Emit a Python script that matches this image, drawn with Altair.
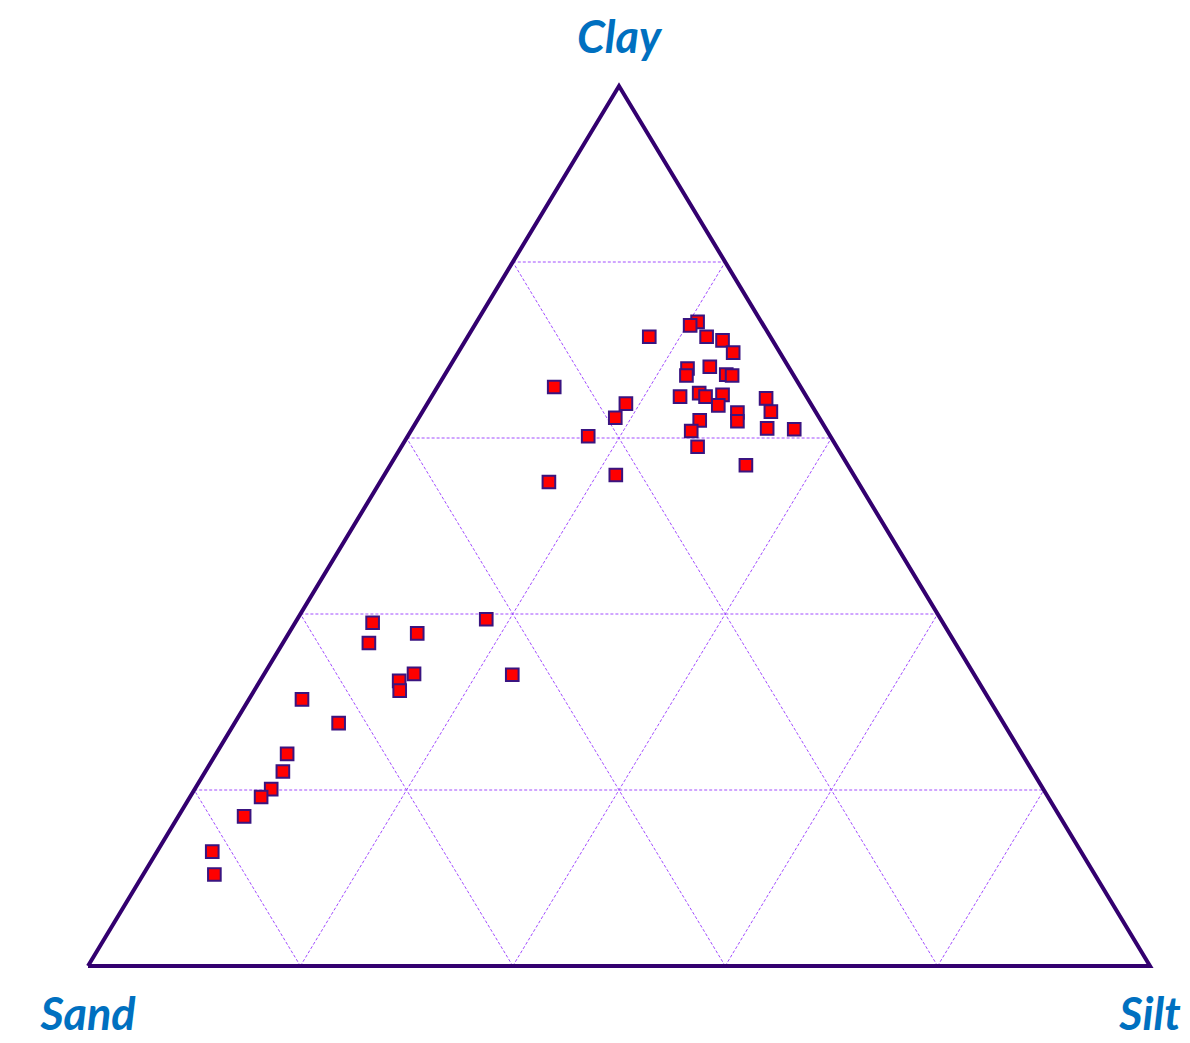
import altair as alt
import pandas as pd

# Soil texture samples (percent)
clay = [71.5, 73.2, 72.8, 71.5, 71.1, 69.7, 67.9, 67.1, 68.1, 67.2, 67.1, 64.7, 65.1,
        64.7, 64.9, 63.7, 64.5, 63.0, 62.9, 61.9, 62.0, 61.1, 61.0, 60.8, 59.0, 56.9,
        65.8, 63.9, 62.3, 60.2, 55.8, 55.0,
        39.0, 37.8, 36.7, 39.4, 33.2, 32.4, 31.3, 33.1, 30.3, 27.6, 24.1, 22.1, 20.1,
        19.2, 17.0, 13.0, 10.4]
silt = [17.1, 20.8, 20.3, 22.5, 24.2, 25.9, 22.5, 22.8, 24.5, 26.5, 27.1, 23.4, 25.0,
        25.8, 27.3, 27.5, 31.6, 32.8, 29.7, 30.2, 26.6, 33.4, 36.0, 26.4, 27.9, 33.5,
        11.0, 18.7, 18.5, 17.0, 21.8, 15.9,
        7.3, 12.1, 8.1, 17.8, 14.1, 13.1, 13.7, 23.4, 5.0, 9.8, 6.7, 7.3, 7.2,
        6.7, 6.2, 5.2, 6.7]
sand = [round(100 - c - s, 1) for c, s in zip(clay, silt)]

levels = [20, 40, 60, 80]
vertex_names = ["Sand", "Silt", "Clay"]
vertex_clay = [0, 0, 100]
vertex_silt = [0, 100, 0]

pts = pd.DataFrame({"clay": clay, "silt": silt, "sand": sand})

rows = []
for k in levels:
    rows.append({"ca": k, "sa": 0, "cb": k, "sb": 100 - k})          # constant clay
    rows.append({"ca": 0, "sa": k, "cb": 100 - k, "sb": k})          # constant silt
    rows.append({"ca": 0, "sa": 100 - k, "cb": 100 - k, "sb": 0})    # constant sand
grid_df = pd.DataFrame(rows)

tri_df = pd.DataFrame({
    "name": vertex_names + [vertex_names[0]],
    "clay": vertex_clay + [vertex_clay[0]],
    "silt": vertex_silt + [vertex_silt[0]],
    "order": [0, 1, 2, 3],
})
lab_df = pd.DataFrame({"name": vertex_names, "clay": vertex_clay, "silt": vertex_silt})

sx = alt.Scale(domain=[0, 100], nice=False, zero=False)
sy = alt.Scale(domain=[0, 100], nice=False, zero=False)

grid = alt.Chart(grid_df).transform_calculate(
    ua="datum.sa + datum.ca / 2", ub="datum.sb + datum.cb / 2"
).mark_rule(color="#A24CFF", strokeWidth=1, strokeDash=[3, 2]).encode(
    x=alt.X("ua:Q", scale=sx, axis=None),
    y=alt.Y("ca:Q", scale=sy, axis=None),
    x2="ub:Q",
    y2="cb:Q",
)

tri = alt.Chart(tri_df).transform_calculate(
    u="datum.silt + datum.clay / 2"
).mark_line(color="#33006F", strokeWidth=4, strokeJoin="miter").encode(
    x=alt.X("u:Q", scale=sx, axis=None),
    y=alt.Y("clay:Q", scale=sy, axis=None),
    order="order:Q",
)

points = alt.Chart(pts).transform_calculate(
    u="datum.silt + datum.clay / 2"
).mark_square(size=160, filled=True, fill="#FF0000", stroke="#3A1480",
              strokeWidth=2, opacity=1).encode(
    x=alt.X("u:Q", scale=sx, axis=None),
    y=alt.Y("clay:Q", scale=sy, axis=None),
)

def labels(names, dy):
    return alt.Chart(lab_df).transform_filter(
        alt.FieldOneOfPredicate(field="name", oneOf=names)
    ).transform_calculate(
        u="datum.silt + datum.clay / 2"
    ).mark_text(font="Lato", fontSize=45, fontWeight="bold", fontStyle="italic",
                color="#0070C0", baseline="alphabetic", align="center", dy=dy).encode(
        x=alt.X("u:Q", scale=sx, axis=None),
        y=alt.Y("clay:Q", scale=sy, axis=None),
        text="name:N",
    )

chart = alt.layer(
    grid, tri, points, labels(["Clay"], -33), labels(["Sand", "Silt"], 64)
).properties(
    width=1062, height=880,
    autosize=alt.AutoSizeParams(type="none"),
    padding={"left": 80, "top": 78, "right": 32, "bottom": 68},
).configure_view(stroke=None)

chart.save("out.html", embed_options={"renderer": "svg", "actions": False})
